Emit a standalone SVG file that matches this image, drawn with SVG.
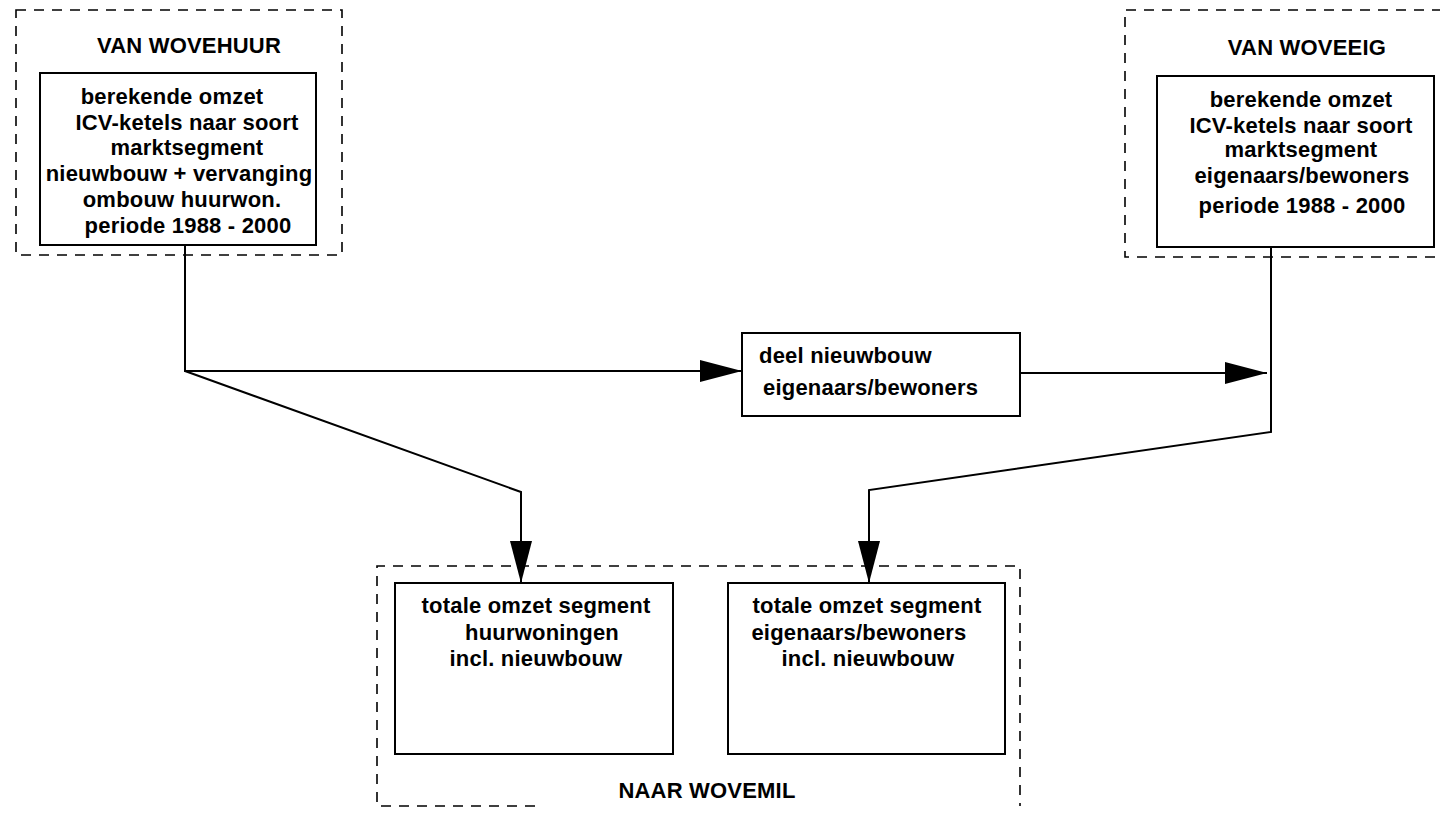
<svg xmlns="http://www.w3.org/2000/svg" width="1440" height="813" viewBox="0 0 1440 813">
  <style>
    .bg { fill: #ffffff; }
    .group { fill: none; stroke: #000; stroke-width: 1.6; stroke-dasharray: 10 8; }
    .box { fill: #ffffff; stroke: #000; stroke-width: 2; }
    .wire { fill: none; stroke: #000; stroke-width: 2; }
    .arrow { marker-end: url(#head); }
    text { font-family: "Liberation Sans", Arial, Helvetica, sans-serif; font-weight: bold; font-size: 22px; letter-spacing: 0.2px; fill: #000; }
    .c { text-anchor: middle; }
  </style>
  <defs>
    <marker id="head" markerUnits="userSpaceOnUse" markerWidth="44" markerHeight="24" refX="42" refY="11" orient="auto">
      <path d="M0,0 L42,11 L0,22 z" fill="#000"/>
    </marker>
  </defs>

  <rect class="bg" x="0" y="0" width="1440" height="813"/>

  <!-- source: rental housing -->
  <g id="van-wovehuur">
    <rect class="group" x="16" y="10" width="326" height="245"/>
    <text class="c" x="189" y="53">VAN WOVEHUUR</text>
    <rect class="box" x="40" y="73" width="276" height="172"/>
    <text class="c" x="172" y="104">berekende omzet</text>
    <text class="c" x="187" y="130">ICV-ketels naar soort</text>
    <text class="c" x="187" y="155">marktsegment</text>
    <text class="c" x="179" y="181">nieuwbouw + vervanging</text>
    <text class="c" x="182" y="207">ombouw huurwon.</text>
    <text class="c" x="188" y="233">periode 1988 - 2000</text>
  </g>

  <!-- source: owner-occupied housing -->
  <g id="van-woveeig">
    <path class="group" d="M1460,10 H1125 V257 H1460"/>
    <text class="c" x="1307" y="55">VAN WOVEEIG</text>
    <rect class="box" x="1157" y="76" width="277" height="171"/>
    <text class="c" x="1301" y="107">berekende omzet</text>
    <text class="c" x="1301" y="133">ICV-ketels naar soort</text>
    <text class="c" x="1301" y="157">marktsegment</text>
    <text class="c" x="1302" y="183">eigenaars/bewoners</text>
    <text class="c" x="1302" y="213">periode 1988 - 2000</text>
  </g>

  <!-- share of new construction -->
  <g id="deel-nieuwbouw">
    <rect class="box" x="742" y="333" width="278" height="83"/>
    <text x="759" y="363">deel nieuwbouw</text>
    <text x="763" y="395">eigenaars/bewoners</text>
  </g>

  <!-- target: WOVEMIL -->
  <g id="naar-wovemil">
    <path class="group" d="M535,806 H377 V566 H1020 V806"/>
    <text class="c" x="707" y="798">NAAR WOVEMIL</text>
  </g>

  <g id="totaal-huur">
    <rect class="box" x="395" y="583" width="278" height="171"/>
    <text class="c" x="536" y="613">totale omzet segment</text>
    <text class="c" x="542" y="640">huurwoningen</text>
    <text class="c" x="536" y="666">incl. nieuwbouw</text>
  </g>

  <g id="totaal-eigen">
    <rect class="box" x="728" y="583" width="277" height="171"/>
    <text class="c" x="867" y="613">totale omzet segment</text>
    <text class="c" x="859" y="640">eigenaars/bewoners</text>
    <text class="c" x="868" y="666">incl. nieuwbouw</text>
  </g>

  <!-- connectors -->
  <g id="connectors">
    <path class="wire arrow" d="M185,245 V371 H742"/>
    <path class="wire arrow" d="M185,371 L521,492 V583"/>
    <path class="wire arrow" d="M1020,373 H1267"/>
    <path class="wire arrow" d="M1271,247 V432 L869,490 V583"/>
  </g>
</svg>
